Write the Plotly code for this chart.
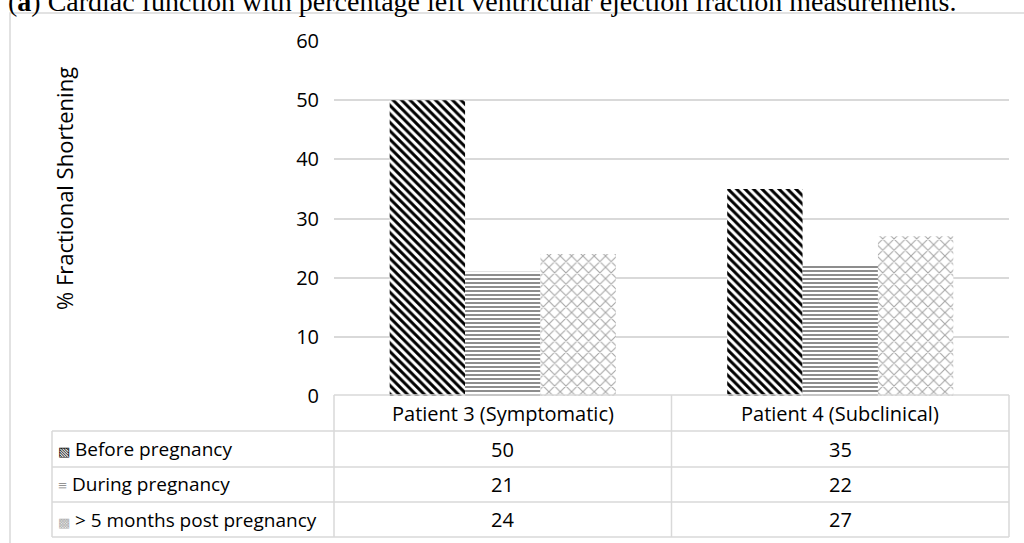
import plotly.graph_objects as go

categories = ["Patient 3 (Symptomatic)", "Patient 4 (Subclinical)"]
series_names = ["Before pregnancy", "During pregnancy", "> 5 months post pregnancy"]
before_vals = [50, 35]
during_vals = [21, 22]
post_vals = [24, 27]
y_ticks = [0, 10, 20, 30, 40, 50, 60]
y_title = "% Fractional Shortening"
title_text = "(<b>a</b>) Cardiac function with percentage left ventricular ejection fraction measurements."

W, Hh = 1024, 543
L, R, T, B = 334, 15, 41, 147
PW = W - L - R
PH = Hh - T - B
FONT = "Open Sans"
GRID = "#d9d9d9"


def px(p):
    return (p - L) / PW


def py(p):
    return (Hh - B - p) / PH


series = [before_vals, during_vals, post_vals]
patterns = [
    dict(shape="\\", fgcolor="black", bgcolor="white", size=6, solidity=0.5, fillmode="replace"),
    dict(shape="-", fgcolor="#808080", bgcolor="white", size=4, solidity=0.45, fillmode="replace"),
    dict(shape="x", fgcolor="#a6a6a6", bgcolor="white", size=8, solidity=0.25, fillmode="replace"),
]

fig = go.Figure()
for name, vals, pat in zip(series_names, series, patterns):
    fig.add_trace(go.Bar(
        x=categories, y=vals, name=name,
        marker=dict(color="white", pattern=pat, line=dict(width=0)),
    ))

fig.update_layout(
    width=W, height=Hh,
    margin=dict(l=L, r=R, t=T, b=B),
    paper_bgcolor="white", plot_bgcolor="white",
    barmode="group", bargap=0.33, bargroupgap=0,
    showlegend=False,
    font=dict(family=FONT, size=20, color="#000"),
    xaxis=dict(showticklabels=False, showgrid=False, zeroline=False, showline=False, ticks=""),
    yaxis=dict(range=[0, 60], tickvals=y_ticks, showgrid=True, gridcolor=GRID, gridwidth=1.5,
               zeroline=False, showline=False, ticks="", ticklabelstandoff=14,
               tickfont=dict(family=FONT, size=20, color="#000")),
)

shapes = []
line = dict(color=GRID, width=1.5)
shapes.append(dict(type="rect", xref="paper", yref="paper", x0=px(10), x1=px(1040),
                   y0=py(13), y1=py(560), line=dict(color=GRID, width=1.5), layer="below"))

ncat = len(categories)
col_edges = [px(L + PW * i / ncat) for i in range(ncat + 1)]
label_left = px(52)
row_edges_px = [395, 431, 467, 502, 537]
row_edges = [py(v) for v in row_edges_px]

shapes.append(dict(type="line", xref="paper", yref="paper", x0=col_edges[0], x1=col_edges[-1],
                   y0=row_edges[0], y1=row_edges[0], line=line))
for ry in row_edges[1:]:
    shapes.append(dict(type="line", xref="paper", yref="paper", x0=label_left, x1=col_edges[-1],
                       y0=ry, y1=ry, line=line))
shapes.append(dict(type="line", xref="paper", yref="paper", x0=label_left, x1=label_left,
                   y0=row_edges[1], y1=row_edges[-1], line=line))
for cx in col_edges:
    shapes.append(dict(type="line", xref="paper", yref="paper", x0=cx, x1=cx,
                       y0=row_edges[0], y1=row_edges[-1], line=line))
fig.update_layout(shapes=shapes)

annotations = []
for i, cat in enumerate(categories):
    annotations.append(dict(text=cat, xref="paper", yref="paper",
                            x=(col_edges[i] + col_edges[i + 1]) / 2,
                            y=(row_edges[0] + row_edges[1]) / 2,
                            showarrow=False, xanchor="center", yanchor="middle",
                            font=dict(family=FONT, size=20)))
icons = ["<span style='color:#000;font-size:13px'>▧</span>",
         "<span style='color:#808080;font-size:16px'>≡</span>",
         "<span style='color:#b0b0b0;font-size:13px'>▩</span>"]
for r, (name, vals) in enumerate(zip(series_names, series)):
    yc = (row_edges[r + 1] + row_edges[r + 2]) / 2
    annotations.append(dict(text=icons[r] + " " + name, xref="paper", yref="paper",
                            x=px(56), y=yc, showarrow=False, xanchor="left", yanchor="middle",
                            font=dict(family=FONT, size=19)))
    for i, v in enumerate(vals):
        annotations.append(dict(text=str(v), xref="paper", yref="paper",
                                x=(col_edges[i] + col_edges[i + 1]) / 2, y=yc,
                                showarrow=False, xanchor="center", yanchor="middle",
                                font=dict(family=FONT, size=20)))
annotations.append(dict(text=y_title, xref="paper", yref="paper", x=px(64), y=py(189),
                        textangle=-90, showarrow=False, xanchor="center", yanchor="middle",
                        font=dict(family=FONT, size=22)))
annotations.append(dict(text=title_text, xref="paper", yref="paper", x=px(6), y=py(19),
                        showarrow=False, xanchor="left", yanchor="bottom",
                        font=dict(family="Liberation Serif", size=28, color="#000")))
fig.update_layout(annotations=annotations)

fig.write_html("out.html", config={"displayModeBar": False},
               post_script="document.body.style.margin='0';document.body.style.overflow='hidden';")
